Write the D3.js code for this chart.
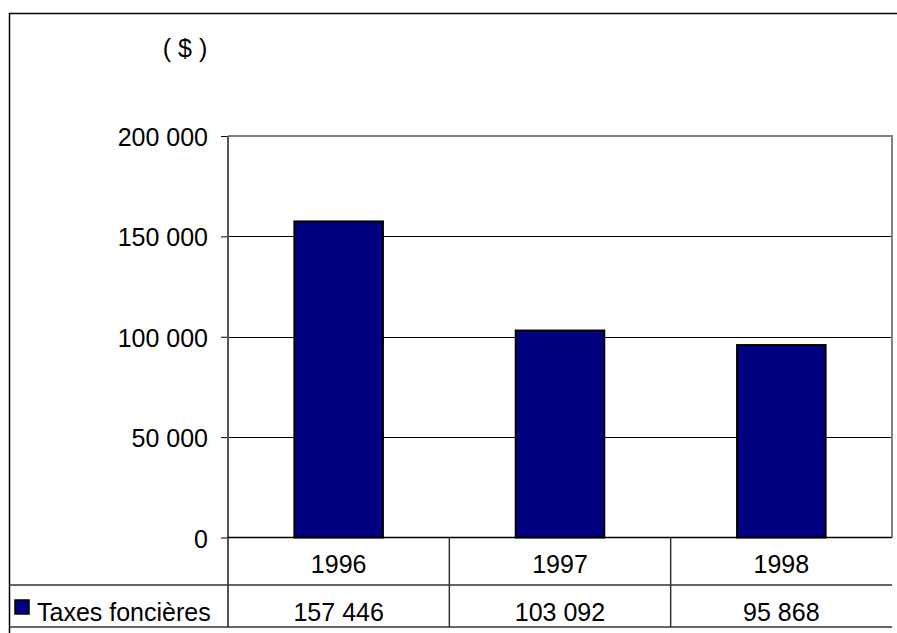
<!DOCTYPE html>
<html>
<head>
<meta charset="utf-8">
<script src="https://cdn.jsdelivr.net/npm/d3@7/dist/d3.min.js"></script>
<style>
  html, body { margin: 0; padding: 0; background: #fff; overflow: hidden; }
  svg { display: block; font-family: "Liberation Sans", Arial, sans-serif; }
</style>
</head>
<body>
<svg id="chart" width="897" height="633"></svg>
<script>
// Property tax collected per year (dollars)
const years = ["1996", "1997", "1998"];
const taxValues = [157446, 103092, 95868];
const seriesName = "Taxes foncières";
const yTicks = [0, 50000, 100000, 150000, 200000];
const unitLabel = "( $ )";

const W = 897, H = 633;
const plot = { left: 228, top: 136, right: 892, bottom: 537.5 };
const rowH1 = 585, rowH2 = 627;
const fontSize = 25;
const barFill = "#000080";

const svg = d3.select("#chart");

// Thousands separated by a space, French style
const fmt = v => d3.format(",")(v).replace(/,/g, " ");

const x = d3.scaleBand().domain(years).range([plot.left, plot.right]).paddingInner(0).paddingOuter(0);
const y = d3.scaleLinear().domain([0, 200000]).range([plot.bottom, plot.top]);
const barW = x.bandwidth() * 0.4;

// Outer frame (extends beyond the visible page on right and bottom)
svg.append("rect")
  .attr("x", 9.5).attr("y", 13.5).attr("width", W + 20).attr("height", H + 20)
  .attr("fill", "none").attr("stroke", "#000").attr("stroke-width", 1.5);

// Unit label
svg.append("text")
  .attr("x", 185).attr("y", 57)
  .attr("text-anchor", "middle").attr("font-size", fontSize)
  .text(unitLabel);

// Horizontal gridlines
svg.append("g").selectAll("line")
  .data(yTicks.filter(t => t > 0 && t < 200000))
  .join("line")
  .attr("x1", plot.left).attr("x2", plot.right)
  .attr("y1", d => Math.round(y(d)) + 0.5).attr("y2", d => Math.round(y(d)) + 0.5)
  .attr("stroke", "#000").attr("stroke-width", 1);

// Plot area border (top and right, grey)
svg.append("path")
  .attr("d", `M${plot.left},${plot.top} H${plot.right} V${plot.bottom}`)
  .attr("fill", "none").attr("stroke", "#808080").attr("stroke-width", 2);

// Y axis
const yAxis = d3.axisLeft(y).tickValues(yTicks).tickFormat(fmt).tickSize(7).tickPadding(13);
const gy = svg.append("g").attr("transform", `translate(${plot.left},0)`).call(yAxis);
gy.select(".domain").remove();
gy.selectAll(".tick line").attr("stroke", "#000").attr("stroke-width", 1);
gy.selectAll(".tick text")
  .attr("font-size", fontSize).attr("font-family", "Liberation Sans, Arial, sans-serif")
  .attr("fill", "#000").attr("dy", "0.38em");
svg.append("line")
  .attr("x1", plot.left).attr("x2", plot.left)
  .attr("y1", plot.top).attr("y2", rowH2)
  .attr("stroke", "#555").attr("stroke-width", 2);

// Bars
svg.append("g").selectAll("rect")
  .data(taxValues)
  .join("rect")
  .attr("x", (d, i) => x(years[i]) + (x.bandwidth() - barW) / 2)
  .attr("y", d => y(d))
  .attr("width", barW)
  .attr("height", d => y(0) - y(d))
  .attr("fill", barFill).attr("stroke", "#000").attr("stroke-width", 2);

// Zero line
svg.append("line")
  .attr("x1", plot.left).attr("x2", plot.right)
  .attr("y1", y(0)).attr("y2", y(0))
  .attr("stroke", "#000").attr("stroke-width", 1.5);

// Data table lines
[rowH1, rowH2].forEach(yy => {
  svg.append("line")
    .attr("x1", 9).attr("x2", plot.right)
    .attr("y1", yy).attr("y2", yy)
    .attr("stroke", "#333").attr("stroke-width", 1.5);
});
years.slice(1).forEach(yr => {
  svg.append("line")
    .attr("x1", x(yr)).attr("x2", x(yr))
    .attr("y1", plot.bottom).attr("y2", rowH2)
    .attr("stroke", "#333").attr("stroke-width", 1.5);
});

// Category labels
svg.append("g").selectAll("text")
  .data(years)
  .join("text")
  .attr("x", d => x(d) + x.bandwidth() / 2)
  .attr("y", 573)
  .attr("text-anchor", "middle").attr("font-size", fontSize)
  .text(d => d);

// Value row
svg.append("g").selectAll("text")
  .data(taxValues)
  .join("text")
  .attr("x", (d, i) => x(years[i]) + x.bandwidth() / 2)
  .attr("y", 621)
  .attr("text-anchor", "middle").attr("font-size", fontSize)
  .text(d => fmt(d));

// Legend key + series name
svg.append("rect")
  .attr("x", 15).attr("y", 600).attr("width", 14).attr("height", 14)
  .attr("fill", barFill).attr("stroke", "#000").attr("stroke-width", 1.5);
svg.append("text")
  .attr("x", 37).attr("y", 621)
  .attr("font-size", fontSize)
  .text(seriesName);
</script>
</body>
</html>
